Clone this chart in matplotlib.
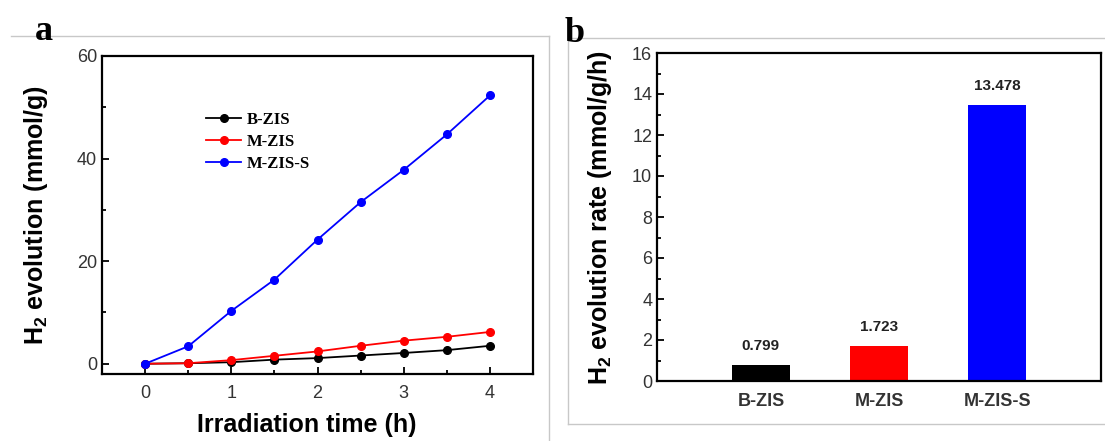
import matplotlib
matplotlib.use("Agg")
import matplotlib.pyplot as plt
from matplotlib.lines import Line2D
from matplotlib.ticker import MultipleLocator

plt.rcParams['font.family'] = ['Liberation Sans', 'DejaVu Sans']
plt.rcParams['mathtext.fontset'] = 'custom'
plt.rcParams['mathtext.rm'] = 'Liberation Sans'
plt.rcParams['mathtext.bf'] = 'Liberation Sans:bold'

# panel a: cumulative H2 evolution
time_h = [0, 0.5, 1, 1.5, 2, 2.5, 3, 3.5, 4]
b_zis = [0, 0.1, 0.3, 0.8, 1.1, 1.6, 2.1, 2.65, 3.5]
m_zis = [0, 0.1, 0.7, 1.55, 2.4, 3.5, 4.5, 5.25, 6.2]
m_zis_s = [0, 3.4, 10.3, 16.4, 24.2, 31.5, 37.8, 44.7, 52.3]

# panel b: evolution rate
samples = ["B-ZIS", "M-ZIS", "M-ZIS-S"]
rates = [0.799, 1.723, 13.478]
bar_colors = ["black", "#ff0000", "#0000ff"]

W, H = 1105, 441
fig = plt.figure(figsize=(W / 100, H / 100), dpi=100)

def box(x0, y0, x1, y1):
	return [x0 / W, 1 - y1 / H, (x1 - x0) / W, (y1 - y0) / H]

# light gray panel frames
gray = "#c8c8c8"
fig.add_artist(Line2D([11 / W, 549 / W], [1 - 36 / H, 1 - 36 / H], color=gray, lw=1))
fig.add_artist(Line2D([549 / W, 549 / W], [1 - 36 / H, 0], color=gray, lw=1))
fig.add_artist(Line2D([568 / W, 1.0], [1 - 38 / H, 1 - 38 / H], color=gray, lw=1))
fig.add_artist(Line2D([568 / W, 568 / W], [1 - 38 / H, 1 - 424 / H], color=gray, lw=1))
fig.add_artist(Line2D([568 / W, 1.0], [1 - 424 / H, 1 - 424 / H], color=gray, lw=1))

tick_col = "#333333"

# ---- panel a
ax1 = fig.add_axes(box(102, 56, 533, 374))
ax1.plot(time_h, b_zis, "-o", color="black", ms=5.5, lw=1.3, label="B-ZIS")
ax1.plot(time_h, m_zis, "-o", color="#ff0000", ms=5.5, lw=1.3, label="M-ZIS")
ax1.plot(time_h, m_zis_s, "-o", color="#0000ff", ms=5.5, lw=1.3, label="M-ZIS-S")
ax1.set_xlim(-0.5, 4.5)
ax1.set_ylim(-2, 60)
ax1.xaxis.set_major_locator(MultipleLocator(1))
ax1.xaxis.set_minor_locator(MultipleLocator(0.5))
ax1.yaxis.set_major_locator(MultipleLocator(20))
ax1.yaxis.set_minor_locator(MultipleLocator(10))
ax1.set_xlabel("Irradiation time (h)", fontsize=18, fontweight="bold")
ax1.xaxis.set_label_coords(0.475, -0.122)
ax1.set_ylabel(r"$\mathbf{H_2}$ evolution (mmol/g)", fontsize=18, fontweight="bold", labelpad=19)
leg = ax1.legend(loc="upper left", bbox_to_anchor=(0.223, 0.85), frameon=False,
	prop={"family": "Liberation Serif", "weight": "bold", "size": 12},
	handlelength=2.1, borderpad=0, labelspacing=0.35, handletextpad=0.3)

# ---- panel b
ax2 = fig.add_axes(box(657, 53, 1101, 381))
pos = range(len(samples))
ax2.bar(pos, rates, width=0.49, color=bar_colors)
for p, r in zip(pos, rates):
	ax2.text(p, r + 0.55, "%.3f" % r, ha="center", va="bottom", fontsize=11,
		fontweight="bold", color="#222222")
ax2.set_xlim(-0.88, 2.88)
ax2.set_ylim(0, 16)
ax2.set_xticks(list(pos))
ax2.set_xticklabels(samples, fontsize=15, fontweight="bold", color="#222222")
ax2.yaxis.set_major_locator(MultipleLocator(2))
ax2.yaxis.set_minor_locator(MultipleLocator(1))
ax2.set_ylabel(r"$\mathbf{H_2}$ evolution rate (mmol/g/h)", fontsize=18, fontweight="bold", labelpad=13)

for ax in (ax1, ax2):
	for s in ax.spines.values():
		s.set_linewidth(1.6)
	ax.tick_params(which="both", direction="in", width=1.3, labelsize=13, labelcolor=tick_col)
	ax.tick_params(which="major", length=5)
	ax.tick_params(which="minor", length=3)
ax1.tick_params(axis="x", pad=8)
ax2.tick_params(axis="x", which="both", length=0, pad=9)

fig.text(44 / W, 1 - 31 / H, "a", fontsize=26, fontweight="bold", family="Liberation Serif",
	ha="center", va="center")
fig.text(575 / W, 1 - 34 / H, "b", fontsize=26, fontweight="bold", family="Liberation Serif",
	ha="center", va="center")

fig.savefig("out.png", dpi=100)
